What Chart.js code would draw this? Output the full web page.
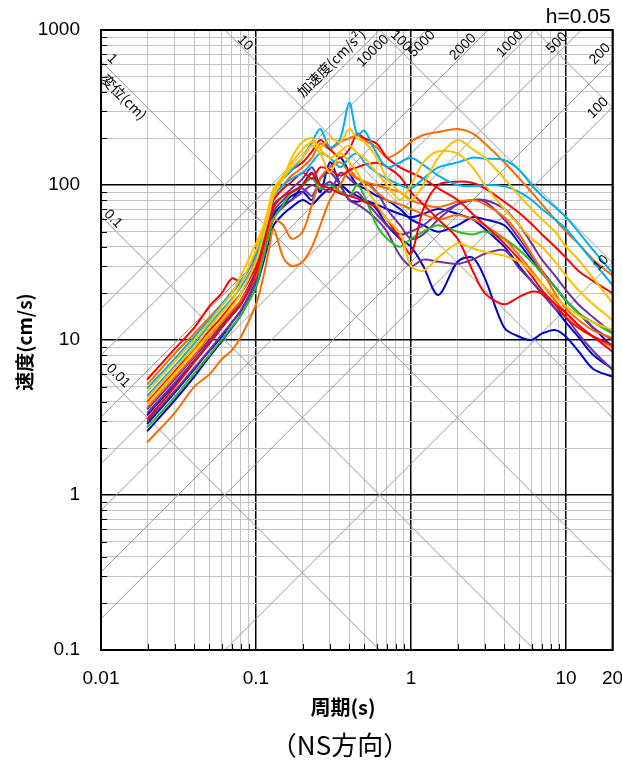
<!DOCTYPE html>
<html><head><meta charset="utf-8">
<script src="https://cdn.jsdelivr.net/npm/chart.js@4.4.1/dist/chart.umd.min.js"></script>
<style>html,body{margin:0;padding:0;background:#fff}canvas{display:block}</style>
</head><body>
<canvas id="c" width="622" height="760"></canvas>
<script>
// ---- data (period s / velocity cm/s, h=0.05) ----
const periods = [0.02,0.03,0.04,0.05,0.06,0.07,0.08,0.1,0.11,0.12,0.13,0.15,0.17,0.2,0.23,0.26,0.3,0.35,0.4,0.45,0.5,0.6,0.7,0.85,1,1.2,1.5,2,2.5,3,4,5,6,7,8.5,10,12,15,20];

const red1    = [5.6,8.8,12,16.5,20,25,24,36,46,65,88,110,125,140,165,195,170,150,170,215,200,185,150,130,120,110,95,80,65,55,42,33,26,21,17,14,12,10.5,9.3];
const red2    = [4.0,6.3,8.8,11.5,14,17,20,30,42,60,80,95,105,120,110,130,125,115,125,130,135,139,131,113,90,75,60,45,28,20,17,19,20.5,20,17,15,12.5,10.5,8.4];
const red3    = [3.1,5.0,7.2,9.5,12,14.5,17,27,38,55,72,85,90,100,118,100,95,88,85,82,78,72,60,45,36,70,100,105,103,95,78,66,56,48,40,34,28,24,20];
const orange1 = [5.2,8.2,11,14,17,20.5,24,34,46,64,85,100,115,130,150,185,170,190,200,210,195,175,150,165,190,210,220,230,215,185,140,110,90,75,60,50,42,33,26];
const orange2 = [3.7,5.8,8,10.5,13,15.5,18,26,36,52,60,55,45,50,75,110,130,140,120,110,105,100,95,90,80,75,72,78,80,75,62,48,36,28,20,16,13.5,11.5,10.3];
const orange3 = [2.2,3.4,5.0,6.0,7.5,8.6,10.5,17,24,36,52,34,30,32,40,55,80,100,125,110,105,90,80,75,70,65,60,64,60,55,45,35,28,23,18,15,12.5,10.5,9];
const sky1    = [4.9,7.6,10.5,13.5,17,20,24,35,48,68,92,110,125,150,190,230,175,200,340,210,225,160,130,140,150,135,115,100,98,100,98,90,80,70,60,52,42,32,22.6];
const sky2    = [4.4,6.8,9.5,12.5,15.5,18.5,22,32,44,62,85,100,110,120,140,160,150,130,150,160,140,120,110,100,95,110,130,140,150,148,145,125,100,85,72,62,50,38,27];
const yellow1 = [4.7,7.3,10,13,16.5,20,26,42,52,70,95,115,140,170,190,175,200,190,230,200,190,150,110,90,80,100,150,195,170,150,110,85,70,60,50,40,33,25,17.3];
const yellow2 = [4.2,6.6,9,12,15,18,23,38,50,68,90,110,150,190,200,170,150,165,180,160,150,120,100,80,100,140,165,160,130,100,70,55,45,40,32,26,21,17,13.4];
const yellow3 = [3.9,6.1,8.5,11,13.5,16.5,20,32,45,62,85,110,130,150,180,160,120,160,140,120,100,75,60,49,30,28,34,42,39,37,35,32,27,23,19,16.5,14.5,13,11.6];
const blue1   = [3.3,5.2,7.3,9.5,12,14.5,17,26,38,52,65,75,80,100,120,90,140,100,80,78,80,70,55,45,40,30,19.5,32,34,25,12,10.5,10,11,11.6,10.5,8.5,6.5,5.8];
const blue2   = [2.9,4.6,6.5,8.5,10.5,13,15.5,24,34,48,62,75,85,90,80,110,130,150,120,100,95,85,80,70,60,55,50,55,62,60,55,42,33,27,22,18,15,12,9];
const blue3   = [2.6,4.1,5.8,7.8,9.8,12,14.5,22,30,42,55,65,72,80,75,85,95,100,90,85,80,75,70,65,62,65,70,65,60,52,40,30,24,20,16,13,10.5,8,6.5];
const purple1 = [3.6,5.6,7.8,10,12.5,15,18,28,40,58,75,85,95,110,130,100,90,120,110,100,105,90,70,55,45,48,60,75,80,78,60,45,35,28,22,18,15,12,10];
const purple2 = [3.4,5.3,7.4,9.6,12,14.5,17,26,37,52,68,80,90,95,85,110,120,100,80,75,70,60,50,35,30,33,32,31,33,36,38,29,24,20,16,14,11,8.5,6.4];
const purple3 = [3.0,4.7,6.6,8.6,10.8,13,15.5,24,34,48,62,72,80,90,100,95,105,90,85,90,80,65,55,48,50,55,65,75,80,80,70,55,42,33,26,21,17,14,11];
const green1  = [2.75,4.3,6.1,8,10,12.2,14.5,22,32,45,60,75,90,100,110,95,100,90,85,100,85,55,45,40,45,50,55,50,48,50,45,38,32,27,22,18,15,13,11];

// tick / grid values
const xGridValues = [0.01,0.02,0.03,0.04,0.05,0.06,0.07,0.08,0.09,0.1,0.2,0.3,0.4,0.5,0.6,0.7,0.8,0.9,1,2,3,4,5,6,7,8,9,10,20];
const yGridValues = [0.1,0.2,0.3,0.4,0.5,0.6,0.7,0.8,0.9,1,2,3,4,5,6,7,8,9,10,20,30,40,50,60,70,80,90,100,200,300,400,500,600,700,800,900,1000];
const xTickLabels = ['0.01','0.1','1','10','20'];
const xTickValues = [0.01,0.1,1,10,20];
const yTickLabels = ['1000','100','10','1','0.1'];
const yTickValues = [1000,100,10,1,0.1];
const dispLines = [0.01,0.1,1,10,100,1000];       // cm
const accLines  = [10,100,200,500,1000,2000,5000,10000]; // cm/s2

const seriesList = [
  ['#FFC000', yellow1], ['#FFC000', yellow2], ['#FFC000', yellow3],
  ['#00B0F0', sky1], ['#00B0F0', sky2],
  ['#FF0000', red1], ['#FF0000', red2], ['#FF0000', red3],
  ['#FF6A00', orange1], ['#FF6A00', orange2], ['#FF6A00', orange3],
  ['#22C022', green1],
  ['#7030A0', purple1], ['#7030A0', purple2], ['#7030A0', purple3],
  ['#0000CC', blue1], ['#0000CC', blue2], ['#0000CC', blue3]
];

const isMajor = v => Math.abs(Math.log10(v) - Math.round(Math.log10(v))) < 1e-9;

const NUMF = '"Liberation Sans", Arial, sans-serif';
const JPF = '"Noto Sans CJK JP", "Noto Sans", sans-serif';

const overlay = {
  id: 'overlay',
  beforeDatasetsDraw(chart) {
    const {ctx, chartArea: a, scales: {x, y}} = chart;
    ctx.save();
    ctx.beginPath(); ctx.rect(a.left, a.top, a.right - a.left, a.bottom - a.top); ctx.clip();
    ctx.strokeStyle = '#999'; ctx.lineWidth = 1;
    const t0 = x.min, t1 = x.max;
    dispLines.forEach(D => {
      ctx.beginPath();
      ctx.moveTo(x.getPixelForValue(t0), y.getPixelForValue(2*Math.PI*D/t0));
      ctx.lineTo(x.getPixelForValue(t1), y.getPixelForValue(2*Math.PI*D/t1));
      ctx.stroke();
    });
    accLines.forEach(A => {
      ctx.beginPath();
      ctx.moveTo(x.getPixelForValue(t0), y.getPixelForValue(A*t0/(2*Math.PI)));
      ctx.lineTo(x.getPixelForValue(t1), y.getPixelForValue(A*t1/(2*Math.PI)));
      ctx.stroke();
    });
    ctx.restore();
  },
  afterDraw(chart) {
    const {ctx, chartArea: a, scales: {x, y}} = chart;
    ctx.save();
    // inner ticks
    ctx.strokeStyle = '#000'; ctx.lineWidth = 1;
    yGridValues.forEach(v => {
      if (isMajor(v)) return;
      const py = Math.round(y.getPixelForValue(v)) + 0.5;
      ctx.beginPath(); ctx.moveTo(a.left, py); ctx.lineTo(a.left + 6, py); ctx.stroke();
    });
    xGridValues.forEach(v => {
      if (isMajor(v) || v >= x.max) return;
      const px = Math.round(x.getPixelForValue(v)) + 0.5;
      ctx.beginPath(); ctx.moveTo(px, a.bottom); ctx.lineTo(px, a.bottom - 6); ctx.stroke();
    });
    // border
    ctx.lineWidth = 2; ctx.strokeStyle = '#000';
    ctx.strokeRect(a.left, a.top, a.right - a.left, a.bottom - a.top);

    ctx.fillStyle = '#000';
    // y tick labels
    ctx.font = '19px ' + NUMF; ctx.textAlign = 'right'; ctx.textBaseline = 'middle';
    yTickValues.forEach((v, i) => ctx.fillText(yTickLabels[i], a.left - 21, y.getPixelForValue(v)));
    // x tick labels
    ctx.textAlign = 'center'; ctx.textBaseline = 'middle';
    xTickValues.forEach((v, i) => ctx.fillText(xTickLabels[i], x.getPixelForValue(v), a.bottom + 29));
    // axis titles
    ctx.font = 'bold 20px ' + JPF;
    ctx.fillText('周期(s)', 343, a.bottom + 57);
    ctx.font = '26px ' + JPF;
    ctx.fillText('（NS方向）', 340, a.bottom + 95);
    ctx.save();
    ctx.translate(25, 342); ctx.rotate(-Math.PI / 2);
    ctx.font = 'bold 19px ' + JPF; ctx.fillText('速度(cm/s)', 0, 0);
    ctx.restore();
    // damping
    ctx.font = '21px ' + NUMF; ctx.textAlign = 'right'; ctx.textBaseline = 'alphabetic';
    ctx.fillText('h=0.05', a.right - 2, a.top - 7);

    // diagonal labels
    const rot = (txt, px, py, ang, font) => {
      ctx.save(); ctx.translate(px, py); ctx.rotate(ang);
      ctx.font = font; ctx.textAlign = 'center'; ctx.textBaseline = 'middle';
      ctx.fillText(txt, 0, 0); ctx.restore();
    };
    const d = Math.PI / 4, f = '14px ' + NUMF, fj = '14px ' + JPF;
    rot('1', 112, 59, d, f);
    rot('変位(cm)', 124, 97, d, fj);
    rot('10', 245, 43, d, f);
    rot('100', 401, 41, d, f);
    rot('0.1', 113, 219, d, f);
    rot('0.01', 118, 376, d, f);
    rot('加速度(cm/s²)', 331, 63, -d, fj);
    rot('10000', 373, 51, -d, f);
    rot('5000', 422, 44, -d, f);
    rot('2000', 463, 47, -d, f);
    rot('1000', 510, 44, -d, f);
    rot('500', 557, 43, -d, f);
    rot('200', 600, 54, -d, f);
    rot('100', 598, 108, -d, f);
    rot('10', 601, 263, -d, f);
    ctx.restore();
  }
};

const xGridColor = c => {
  const v = c.tick && c.tick.value;
  return (isMajor(v) || v === 20) ? '#000' : '#c4c4c4';
};
const xGridWidth = c => {
  const v = c.tick && c.tick.value;
  return (isMajor(v) || v === 20) ? 1.5 : 1;
};
const yGridColor = c => isMajor(c.tick && c.tick.value) ? '#000' : '#c4c4c4';
const yGridWidth = c => isMajor(c.tick && c.tick.value) ? 1.5 : 1;

new Chart(document.getElementById('c'), {
  type: 'line',
  data: {
    datasets: seriesList.map(([color, vals]) => ({
      data: periods.map((t, i) => ({x: t, y: vals[i]})),
      borderColor: color, borderWidth: 2, pointRadius: 0, tension: 0.3,
      fill: false, borderJoinStyle: 'round', borderCapStyle: 'round'
    }))
  },
  options: {
    responsive: false, animation: false, devicePixelRatio: 1,
    layout: {padding: {top: 30, right: 9.4, left: 0, bottom: 0}},
    plugins: {legend: {display: false}, tooltip: {enabled: false}},
    scales: {
      x: {
        type: 'logarithmic', min: 0.01, max: 20, position: 'bottom',
        afterBuildTicks: s => { s.ticks = xGridValues.map(v => ({value: v})); },
        afterFit: s => { s.height = 110; },
        ticks: {display: false},
        grid: {drawTicks: false, color: xGridColor, lineWidth: xGridWidth},
        border: {display: false}
      },
      y: {
        type: 'logarithmic', min: 0.1, max: 1000, position: 'left',
        afterBuildTicks: s => { s.ticks = yGridValues.map(v => ({value: v})); },
        afterFit: s => { s.width = 101; },
        ticks: {display: false},
        grid: {drawTicks: false, color: yGridColor, lineWidth: yGridWidth},
        border: {display: false}
      }
    }
  },
  plugins: [overlay]
});
</script>
</body></html>
